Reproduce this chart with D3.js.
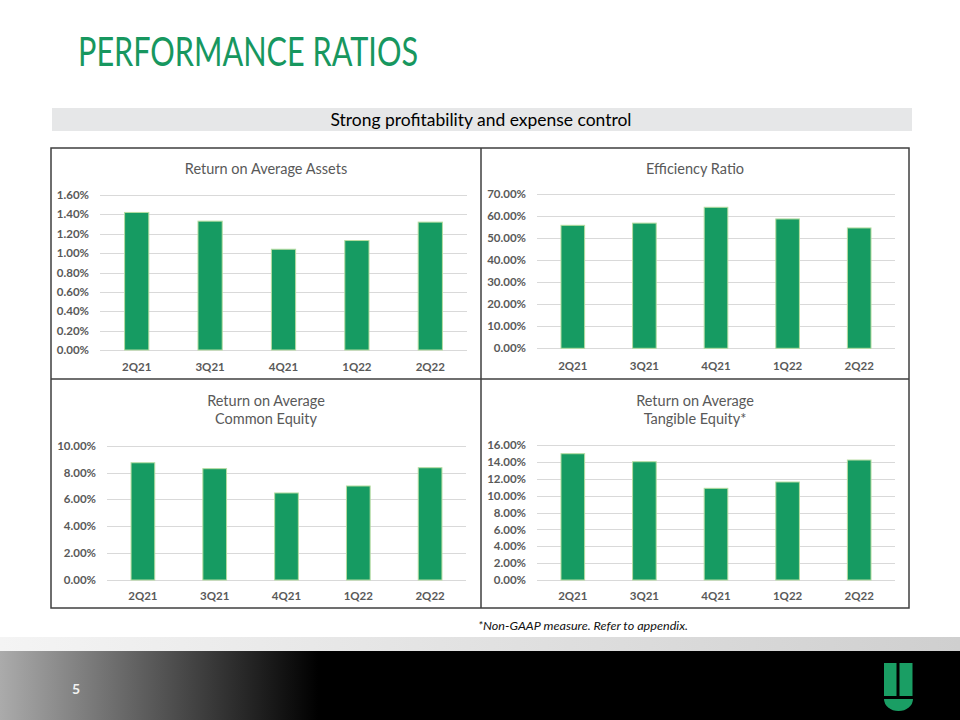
<!DOCTYPE html>
<html>
<head>
<meta charset="utf-8">
<title>Performance Ratios</title>
<script src="https://d3js.org/d3.v7.min.js"></script>
<style>
    body { margin: 0; background: #fff; overflow: hidden; }
    svg text { font-family: Lato, "Open Sans", sans-serif; }
</style>
</head>
<body>
<svg id="slide" width="960" height="720"></svg>
<script>
    // data
    const quarters = ["2Q21", "3Q21", "4Q21", "1Q22", "2Q22"];
    const roaValues = [1.42, 1.33, 1.04, 1.13, 1.32];
    const efficiencyValues = [55.9, 56.9, 64.1, 58.8, 54.7];
    const roceValues = [8.73, 8.29, 6.48, 7.00, 8.36];
    const rotceValues = [15.00, 14.05, 10.89, 11.64, 14.25];

    const roaTicks = [0, 0.2, 0.4, 0.6, 0.8, 1.0, 1.2, 1.4, 1.6];
    const efficiencyTicks = [0, 10, 20, 30, 40, 50, 60, 70];
    const roceTicks = [0, 2, 4, 6, 8, 10];
    const rotceTicks = [0, 2, 4, 6, 8, 10, 12, 14, 16];

    const GREEN = "#169b62";
    const GREY_TEXT = "#595959";

    const svg = d3.select("#slide");
    const defs = svg.append("defs");

    // slide title
    svg.append("text")
        .attr("x", 78).attr("y", 66)
        .attr("font-size", 40)
        .attr("fill", "#17975f")
        .attr("textLength", 340)
        .attr("lengthAdjust", "spacingAndGlyphs")
        .text("PERFORMANCE RATIOS");

    // banner
    svg.append("rect")
        .attr("x", 52).attr("y", 108).attr("width", 860).attr("height", 23)
        .attr("fill", "#e6e7e8");
    svg.append("text")
        .attr("x", 481).attr("y", 126)
        .attr("text-anchor", "middle")
        .attr("font-size", 17)
        .attr("fill", "#000")
        .attr("textLength", 301)
        .attr("lengthAdjust", "spacingAndGlyphs")
        .text("Strong profitability and expense control");

    const panels = [
        { title: ["Return on Average Assets"], titleX: 266, titleY: 169, values: roaValues, ticks: roaTicks,
          x0: 100, x1: 467, yTop: 195, yZero: 350, labelX: 89, catY: 367, max: 1.6 },
        { title: ["Efficiency Ratio"], titleX: 695, titleY: 169, values: efficiencyValues, ticks: efficiencyTicks,
          x0: 537, x1: 895, yTop: 194.3, yZero: 348.3, labelX: 526, catY: 366, max: 70 },
        { title: ["Return on Average", "Common Equity"], titleX: 266, titleY: 401, values: roceValues, ticks: roceTicks,
          x0: 107, x1: 466, yTop: 445.7, yZero: 580, labelX: 96, catY: 596, max: 10 },
        { title: ["Return on Average", "Tangible Equity*"], titleX: 695, titleY: 401, values: rotceValues, ticks: rotceTicks,
          x0: 537, x1: 895, yTop: 445.3, yZero: 580, labelX: 526, catY: 596, max: 16 }
    ];

    panels.forEach(p => {
        const g = svg.append("g");
        const x = d3.scaleBand().domain(quarters).range([p.x0, p.x1])
            .paddingInner(0.67).paddingOuter(0.335);
        const y = d3.scaleLinear().domain([0, p.max]).range([p.yZero, p.yTop]);

        // title
        p.title.forEach((line, i) => {
            g.append("text")
                .attr("x", p.titleX).attr("y", p.titleY + i * 18)
                .attr("dy", "0.35em")
                .attr("text-anchor", "middle")
                .attr("font-size", 14.5)
                .attr("fill", GREY_TEXT)
                .text(line);
        });

        // gridlines
        g.selectAll("line.grid").data(p.ticks).enter().append("line")
            .attr("class", "grid")
            .attr("x1", p.x0).attr("x2", p.x1)
            .attr("y1", d => Math.round(y(d)) + 0.5).attr("y2", d => Math.round(y(d)) + 0.5)
            .attr("stroke", "#d9d9d9").attr("stroke-width", 1);

        // y tick labels
        g.selectAll("text.ytick").data(p.ticks).enter().append("text")
            .attr("class", "ytick")
            .attr("x", p.labelX).attr("y", d => y(d))
            .attr("dy", "0.35em")
            .attr("text-anchor", "end")
            .attr("font-size", 11.5)
            .attr("font-weight", "bold")
            .attr("fill", GREY_TEXT)
            .text(d => d.toFixed(2) + "%");

        // bars
        g.selectAll("rect.bar").data(p.values).enter().append("rect")
            .attr("class", "bar")
            .attr("x", (d, i) => x(quarters[i]))
            .attr("width", x.bandwidth())
            .attr("y", d => y(d))
            .attr("height", d => y(0) - y(d))
            .attr("fill", GREEN)
            .attr("stroke", "#b5dca0")
            .attr("stroke-width", 1);

        // category labels
        g.selectAll("text.cat").data(quarters).enter().append("text")
            .attr("class", "cat")
            .attr("x", d => x(d) + x.bandwidth() / 2)
            .attr("y", p.catY)
            .attr("dy", "0.35em")
            .attr("text-anchor", "middle")
            .attr("font-size", 11.5)
            .attr("font-weight", "bold")
            .attr("fill", GREY_TEXT)
            .text(d => d);
    });

    // panel frame
    const frame = svg.append("g").attr("fill", "none").attr("stroke", "#3f3f3f").attr("stroke-width", 1.5);
    frame.append("rect").attr("x", 51).attr("y", 148).attr("width", 858).attr("height", 460);
    frame.append("line").attr("x1", 481).attr("x2", 481).attr("y1", 148).attr("y2", 608);
    frame.append("line").attr("x1", 51).attr("x2", 909).attr("y1", 379).attr("y2", 379);

    // footnote
    svg.append("text")
        .attr("x", 478).attr("y", 630)
        .attr("font-size", 11)
        .attr("font-style", "italic")
        .attr("fill", "#111")
        .attr("textLength", 210)
        .attr("lengthAdjust", "spacingAndGlyphs")
        .text("*Non-GAAP measure.  Refer to appendix.");

    // footer
    const band = defs.append("linearGradient").attr("id", "band");
    band.append("stop").attr("offset", "0%").attr("stop-color", "#f4f4f4");
    band.append("stop").attr("offset", "100%").attr("stop-color", "#cfcfcf");
    svg.append("rect").attr("x", 0).attr("y", 637).attr("width", 960).attr("height", 14).attr("fill", "url(#band)");

    svg.append("rect").attr("x", 0).attr("y", 651).attr("width", 960).attr("height", 69).attr("fill", "#000");
    const fade = defs.append("linearGradient").attr("id", "fade");
    fade.append("stop").attr("offset", "0%").attr("stop-color", "#ababab");
    fade.append("stop").attr("offset", "100%").attr("stop-color", "#000");
    svg.append("rect").attr("x", 0).attr("y", 651).attr("width", 318).attr("height", 69).attr("fill", "url(#fade)");

    svg.append("text")
        .attr("x", 76).attr("y", 689)
        .attr("dy", "0.35em")
        .attr("text-anchor", "middle")
        .attr("font-size", 14)
        .attr("font-weight", "bold")
        .attr("fill", "#f2f2f2")
        .text("5");

    // logo
    const logo = svg.append("g").attr("fill", "#1a9e64");
    logo.append("rect").attr("x", 884).attr("y", 663).attr("width", 12.5).attr("height", 33);
    logo.append("rect").attr("x", 899.5).attr("y", 663).attr("width", 13).attr("height", 33);
    logo.append("path")
        .attr("d", "M884,699 L913,699 A14.5,12 0 0 1 884,699 Z");
</script>
</body>
</html>
